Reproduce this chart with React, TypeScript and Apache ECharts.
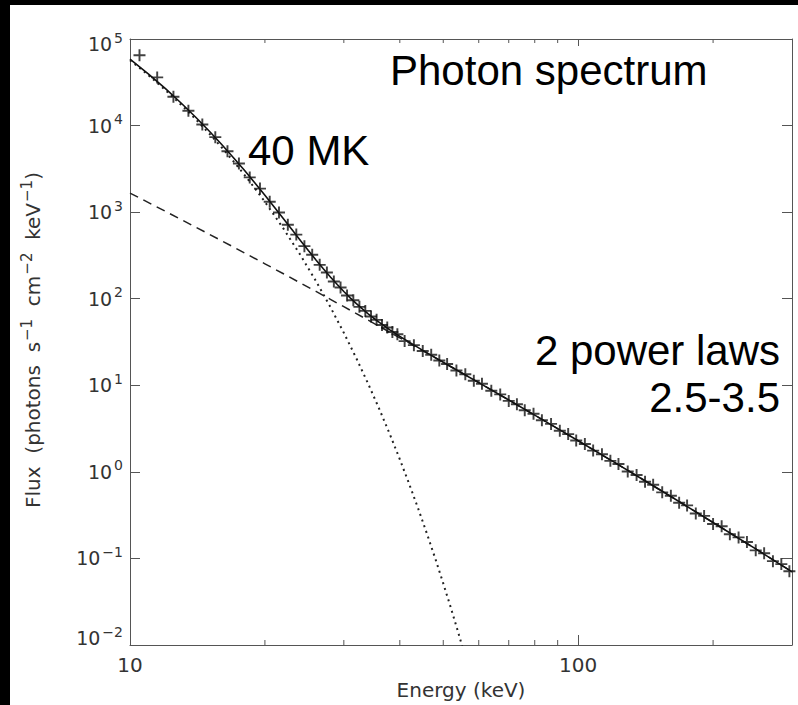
import React, { useEffect, useRef } from "react";
import * as echarts from "echarts";

// Fitted total spectrum (keV, photons s^-1 cm^-2 keV^-1)
const fitEnergy = [10, 11, 12, 13, 14, 15, 16, 17, 18, 19, 20, 21, 22, 23, 24, 25, 26, 27, 28, 29, 30, 31, 32, 33, 34, 35, 36, 37, 38, 39, 40, 45, 50, 55, 60, 70, 80, 90, 100, 120, 140, 160, 180, 200, 250, 300];
const fitFlux = [58660, 39381, 26690, 18243, 12565, 8717, 6092, 4286, 3041, 2174, 1567, 1142, 839.5, 625.8, 471.6, 361.5, 280.8, 222.1, 178.4, 146.0, 121.2, 102.4, 87.68, 76.21, 66.89, 59.46, 53.23, 48.12, 43.72, 40.0, 36.72, 25.33, 18.44, 13.89, 10.72, 6.756, 4.515, 3.157, 2.286, 1.302, 0.805, 0.529, 0.364, 0.260, 0.127, 0.0700];

// Non-thermal (power-law) component, dashed
const powerEnergy = [10, 12, 14, 16, 18, 20, 22, 24, 26, 28, 30, 32, 34, 36, 38, 40, 45, 50, 55, 60, 70, 80, 90, 100, 120, 140, 160, 180, 200, 250, 300];
const powerFlux = [1660, 1021, 673.4, 468.1, 338.7, 253.1, 194.1, 152.0, 121.3, 98.35, 80.84, 67.23, 56.49, 47.92, 41.0, 35.32, 25.06, 18.39, 13.88, 10.72, 6.756, 4.515, 3.157, 2.286, 1.302, 0.805, 0.529, 0.364, 0.260, 0.127, 0.0700];

// Thermal (40 MK) component, dotted
const thermalEnergy = [10, 11, 12, 13, 14, 15, 16, 17, 18, 19, 20, 22, 24, 26, 28, 30, 32, 34, 36, 38, 40, 42, 44, 46, 48, 50, 52, 54, 56];
const thermalFlux = [57000, 38093, 25669, 17420, 11892, 8159, 5624, 3890, 2702, 1882, 1314, 645.4, 319.6, 159.5, 80.04, 40.37, 20.45, 10.4, 5.311, 2.72, 1.396, 0.7187, 0.3708, 0.1917, 0.0993, 0.0515, 0.02677, 0.01393, 0.007257];

// Measured photon spectrum, crosses
const dataEnergy = [10.5, 11.5, 12.5, 13.5, 14.5, 15.5, 16.5, 17.5, 18.5, 19.5, 20.5, 21.5, 22.5, 23.5, 24.5, 25.5, 26.5, 27.5, 28.5, 29.5, 30.5, 31.5, 32.5, 33.5, 34.5, 35.5, 36.5, 37.5, 38.5, 39.5, 41, 43, 45, 47, 49, 51, 53.5, 56, 58.5, 61, 64, 67, 70, 73, 76, 79.5, 83, 87, 91, 95, 99, 103.5, 108, 113, 118, 123, 129, 135, 141, 147, 154, 161, 168, 175, 183, 191, 200, 209, 218, 228, 238, 249, 260, 272, 284, 296];
const dataFlux = [65000, 36000, 21500, 14800, 10300, 7350, 5050, 3650, 2520, 1870, 1320, 990, 715, 550, 405, 322, 246, 201, 158, 135, 109, 96, 80.5, 72.3, 62.2, 57.0, 49.8, 46.5, 41.2, 38.9, 32.4, 29.1, 24.9, 22.5, 19.3, 17.6, 14.8, 13.4, 11.3, 10.4, 8.65, 7.85, 6.6, 6.05, 5.15, 4.7, 3.95, 3.58, 2.98, 2.73, 2.3, 2.1, 1.76, 1.6, 1.34, 1.23, 1.01, 0.92, 0.77, 0.71, 0.58, 0.53, 0.44, 0.41, 0.33, 0.31, 0.25, 0.235, 0.19, 0.175, 0.155, 0.124, 0.115, 0.093, 0.086, 0.071];

const xMin = 10;
const xMax = 300;
const yMin = 0.01;
const yMax = 100000;
const xMinorTicks = [20, 30, 40, 50, 60, 70, 80, 90, 200];

const zip = (a: number[], b: number[]) => a.map((v, i) => [v, b[i]]);

const AXIS = "#555";
const LABEL = "#333";
const FONT = "DejaVu Sans";
const PLUS =
  "path://M-1.6,-10L1.6,-10L1.6,-1.6L10,-1.6L10,1.6L1.6,1.6L1.6,10L-1.6,10L-1.6,1.6L-10,1.6L-10,-1.6L-1.6,-1.6Z";

const expLabel = (v: number) => {
  const e = Math.round(Math.log10(v));
  const s = e < 0 ? "\u2212" + Math.abs(e) : String(e);
  const suffix = e === 5 ? "T" : e === -2 ? "B" : "";
  return "{b" + suffix + "|10}{s" + suffix + "|" + s + "}";
};

const bStyle = { fontFamily: FONT, fontSize: 19, color: LABEL };
const sStyle = { fontFamily: FONT, fontSize: 14, color: LABEL };

export default function App() {
  const ref = useRef<HTMLDivElement>(null);
  useEffect(() => {
    if (!ref.current) return;
    const chart = echarts.init(ref.current, null, { renderer: "svg" });
    const logX = { type: "log" as const, logBase: 10, min: xMin, max: xMax };
    const logY = { type: "log" as const, logBase: 10, min: yMin, max: yMax };
    chart.setOption({
      animation: false,
      backgroundColor: "#ffffff",
      grid: { left: 130, top: 39, right: 6, bottom: 60, show: false, containLabel: false, outerBoundsMode: "none" },
      xAxis: [
        {
          ...logX,
          position: "bottom",
          name: "Energy (keV)",
          nameLocation: "middle",
          nameGap: 35,
          nameTextStyle: { fontFamily: FONT, fontSize: 20, color: LABEL },
          axisLine: { show: true, lineStyle: { color: AXIS, width: 1 } },
          axisTick: { show: true, inside: true, length: 10, lineStyle: { color: AXIS } },
          axisLabel: { margin: 10, fontFamily: FONT, fontSize: 20, color: LABEL, showMaxLabel: false },
          splitLine: { show: false },
        },
        {
          ...logX,
          position: "top",
          axisLine: { show: true, lineStyle: { color: AXIS, width: 1 } },
          axisTick: { show: true, inside: true, length: 7, lineStyle: { color: AXIS } },
          axisLabel: { show: false },
          splitLine: { show: false },
        },
      ],
      yAxis: [
        {
          ...logY,
          position: "left",
          splitNumber: 7,
          axisLine: { show: true, lineStyle: { color: AXIS, width: 1 } },
          axisTick: { show: true, inside: true, length: 10, lineStyle: { color: AXIS } },
          axisLabel: {
            margin: 7,
            formatter: expLabel,
            rich: {
              b: { ...bStyle },
              s: { ...sStyle, padding: [0, 0, 13, 2] },
              bT: { ...bStyle, padding: [10, 0, 0, 0] },
              sT: { ...sStyle, padding: [10, 0, 13, 2] },
              bB: { ...bStyle, padding: [0, 0, 14, 0] },
              sB: { ...sStyle, padding: [0, 0, 27, 2] },
            },
          },
          splitLine: { show: false },
        },
        {
          ...logY,
          position: "right",
          splitNumber: 7,
          axisLine: { show: true, lineStyle: { color: AXIS, width: 1 } },
          axisTick: { show: true, inside: true, length: 10, lineStyle: { color: AXIS } },
          axisLabel: { show: false },
          splitLine: { show: false },
        },
      ],
      graphic: [
        { type: "rect", shape: { x: 0, y: 0, width: 10, height: 705 }, style: { fill: "#000" }, silent: true },
        { type: "rect", shape: { x: 0, y: 0, width: 798, height: 5 }, style: { fill: "#000" }, silent: true },
        {
          type: "text",
          x: 33,
          y: 340,
          rotation: Math.PI / 2,
          silent: true,
          style: {
            text: "{a|Flux  (photons  s}{s|\u22121}{a|  cm}{s|\u22122}{a|  keV}{s|\u22121}{a|)}",
            align: "center",
            verticalAlign: "middle",
            rich: {
              a: { fontFamily: FONT, fontSize: 20, fill: LABEL },
              s: { fontFamily: FONT, fontSize: 15, fill: LABEL, padding: [0, 0, 12, 1] },
            },
          },
        },
        {
          type: "text",
          x: 390,
          y: 70,
          silent: true,
          style: { text: "Photon spectrum", fontFamily: "Liberation Sans", fontSize: 42, fill: "#000", align: "left", verticalAlign: "middle" },
        },
        {
          type: "text",
          x: 248,
          y: 150,
          silent: true,
          style: { text: "40 MK", fontFamily: "Liberation Sans", fontSize: 42, fill: "#000", align: "left", verticalAlign: "middle" },
        },
        {
          type: "text",
          x: 780,
          y: 350,
          silent: true,
          style: { text: "2 power laws", fontFamily: "Liberation Sans", fontSize: 42, fill: "#000", align: "right", verticalAlign: "middle" },
        },
        {
          type: "text",
          x: 780,
          y: 397,
          silent: true,
          style: { text: "2.5-3.5", fontFamily: "Liberation Sans", fontSize: 42, fill: "#000", align: "right", verticalAlign: "middle" },
        },
      ],
      series: [
        {
          name: "Thermal",
          type: "line",
          data: zip(thermalEnergy, thermalFlux),
          symbol: "none",
          clip: true,
          lineStyle: { color: "#222", width: 2, type: [2, 4] },
          z: 2,
        },
        {
          name: "Power law",
          type: "line",
          data: zip(powerEnergy, powerFlux),
          symbol: "none",
          clip: true,
          lineStyle: { color: "#222", width: 1.5, type: [9, 6] },
          z: 2,
        },
        {
          name: "Fit",
          type: "line",
          data: zip(fitEnergy, fitFlux),
          symbol: "none",
          clip: true,
          lineStyle: { color: "#111", width: 1.6 },
          z: 3,
        },
        {
          name: "Data",
          type: "scatter",
          data: zip(dataEnergy, dataFlux),
          symbol: PLUS,
          symbolSize: 12,
          itemStyle: { color: "#111" },
          z: 4,
        },
        {
          name: "minor ticks",
          type: "custom",
          silent: true,
          clip: false,
          data: xMinorTicks.map((v) => [v, yMin]),
          renderItem: (_params: any, api: any) => {
            const v = api.value(0);
            const b = api.coord([v, yMin]);
            const t = api.coord([v, yMax]);
            return {
              type: "group",
              children: [
                { type: "line", shape: { x1: b[0], y1: b[1], x2: b[0], y2: b[1] - 5 }, style: { stroke: AXIS, lineWidth: 1 } },
                { type: "line", shape: { x1: t[0], y1: t[1], x2: t[0], y2: t[1] + 4 }, style: { stroke: AXIS, lineWidth: 1 } },
              ],
            };
          },
        },
      ],
    });
    return () => chart.dispose();
  }, []);
  return (
    <div
      ref={ref}
      style={{ position: "absolute", left: 0, top: 0, width: 798, height: 705, background: "#fff" }}
    />
  );
}
